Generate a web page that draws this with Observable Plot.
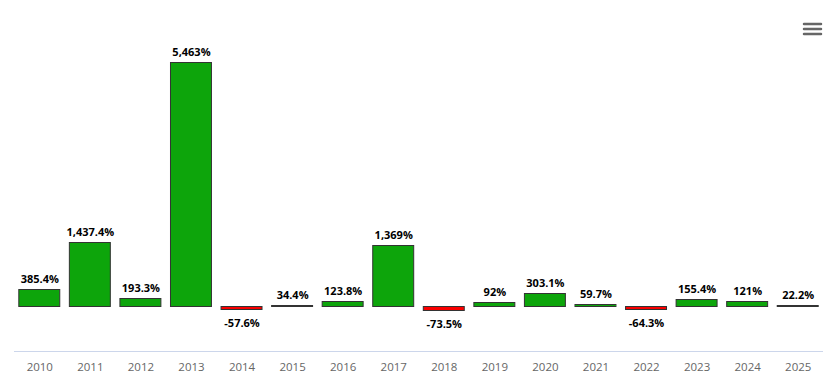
<!DOCTYPE html>
<html>
<head>
<meta charset="utf-8">
<script src="https://cdn.jsdelivr.net/npm/d3@7"></script>
<script src="https://cdn.jsdelivr.net/npm/@observablehq/plot@0.6"></script>
<style>
  html, body { margin: 0; padding: 0; background: #fff; }
  #wrap { position: relative; width: 833px; height: 378px; }
  #menu { position: absolute; left: 0; top: 0; }
</style>
</head>
<body>
<div id="wrap"></div>
<script>
const years = ["2010","2011","2012","2013","2014","2015","2016","2017","2018","2019","2020","2021","2022","2023","2024","2025"];
const returns = [385.4, 1437.4, 193.3, 5463, -57.6, 34.4, 123.8, 1369, -73.5, 92, 303.1, 59.7, -64.3, 155.4, 121, 22.2];

const data = years.map((year, i) => ({year, value: returns[i]}));
const fmt = v => v.toLocaleString("en-US", {maximumFractionDigits: 1}) + "%";
const pos = data.filter(d => d.value >= 0);
const neg = data.filter(d => d.value < 0);

const chart = Plot.plot({
  width: 833,
  height: 378,
  marginLeft: 14,
  marginRight: 10,
  marginTop: 38,
  marginBottom: 27,
  style: {fontFamily: "'Open Sans', sans-serif", background: "#fff", overflow: "visible"},
  x: {domain: years, padding: 0, round: false, label: null},
  y: {domain: [-1000, 6000], round: true, axis: null},
  marks: [
    Plot.ruleY([-1000], {stroke: "#ccd6eb", strokeWidth: 1}),
    Plot.barY(data, {
      x: "year", y: "value",
      insetLeft: 4.8, insetRight: 4.8,
      dy: 0.5,
      fill: d => d.value < 0 ? "#fa0000" : "#0da50b",
      stroke: "#333", strokeWidth: 1
    }),
    Plot.text(pos, {
      x: "year", y: "value", text: d => fmt(d.value),
      dy: -10, fontSize: 11, fontWeight: "bold", fill: "#000", lineAnchor: "middle"
    }),
    Plot.text(neg, {
      x: "year", y: "value", text: d => fmt(d.value),
      dy: 14, fontSize: 11, fontWeight: "bold", fill: "#000", lineAnchor: "middle"
    }),
    Plot.axisX({tickSize: 0, tickPadding: 11, fontSize: 11.5, color: "#666", label: null})
  ]
});

const wrap = document.getElementById("wrap");
wrap.appendChild(chart);

const menu = document.createElementNS("http://www.w3.org/2000/svg", "svg");
menu.setAttribute("id", "menu");
menu.setAttribute("width", "833");
menu.setAttribute("height", "50");
[24, 29, 34].forEach(y => {
  const l = document.createElementNS("http://www.w3.org/2000/svg", "line");
  l.setAttribute("x1", 804); l.setAttribute("x2", 821);
  l.setAttribute("y1", y); l.setAttribute("y2", y);
  l.setAttribute("stroke", "#666"); l.setAttribute("stroke-width", 2.5);
  l.setAttribute("stroke-linecap", "round");
  menu.appendChild(l);
});
wrap.appendChild(menu);
</script>
</body>
</html>
